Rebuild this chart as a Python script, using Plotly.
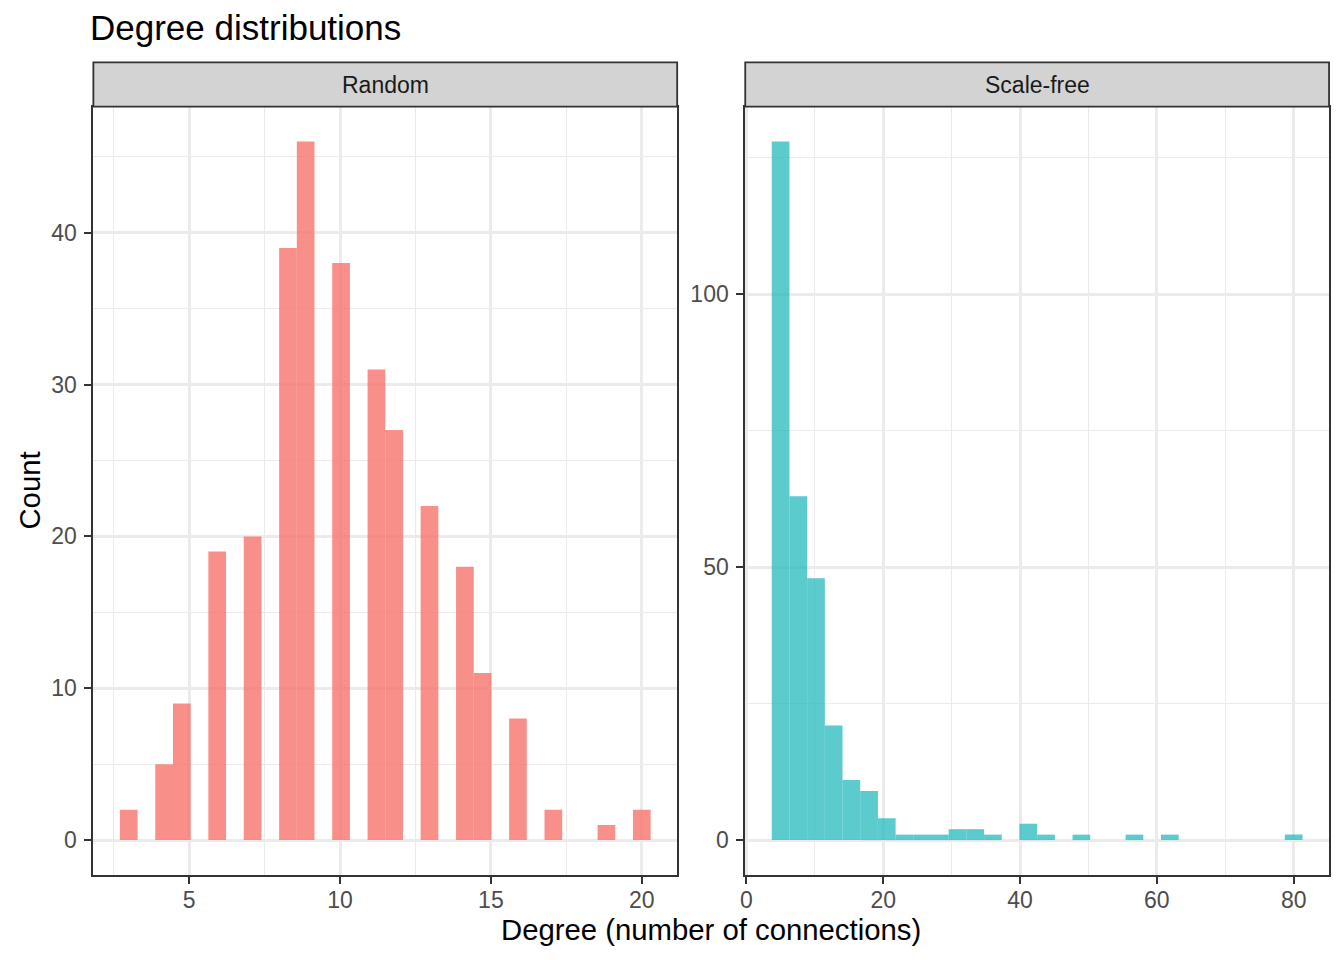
import numpy as np
import plotly.graph_objects as go

# ---------------- data ----------------
chart_title = "Degree distributions"
panel_labels = ["Random", "Scale-free"]
x_title = "Degree (number of connections)"
y_title = "Count"

# Random network: degree value -> number of nodes
random_degree = [3, 4, 5, 6, 7, 8, 9, 10, 11, 12, 13, 14, 15, 16, 17, 19, 20]
random_count = [2, 5, 9, 19, 20, 39, 46, 38, 31, 27, 22, 18, 11, 8, 2, 1, 2]

# Scale-free network: 30 histogram bins spanning degree 5..80
scalefree_min, scalefree_max = 5, 80
scalefree_bin_count = [128, 63, 48, 21, 11, 9, 4, 1, 1, 1, 2, 2, 1, 0, 3,
                       1, 0, 1, 0, 0, 1, 0, 1, 0, 0, 0, 0, 0, 0, 1]

n_bins = 30

# ---------------- binning (ggplot2 style: bins centred on range ends) ----------------
r_lo, r_hi = min(random_degree), max(random_degree)
r_w = (r_hi - r_lo) / (n_bins - 1)
r_centers = [r_lo + round((d - r_lo) / r_w) * r_w for d in random_degree]

s_w = (scalefree_max - scalefree_min) / (n_bins - 1)
s_centers = [scalefree_min + k * s_w for k in range(n_bins)]


def expand(lo, hi, mult=0.05):
    span = hi - lo
    return [lo - span * mult, hi + span * mult]


r_xrange = expand(r_lo - r_w / 2, r_hi + r_w / 2)
r_yrange = expand(0, max(random_count))
s_xrange = expand(scalefree_min - s_w / 2, scalefree_max + s_w / 2)
s_yrange = expand(0, max(scalefree_bin_count))

# ---------------- layout geometry (pixels) ----------------
W, H = 1344, 960
px = lambda v: v / W
py = lambda v: 1 - v / H

p1 = (88.7, 674.7)
p2 = (743.0, 1329.0)
p_top, p_bot = 106.7, 875.0
strip_top = 62.3

FONT = "Liberation Sans, Arial, Helvetica, sans-serif"
BORDER = "#333333"
GRID = "#EBEBEB"

fig = go.Figure()
fig.add_trace(go.Bar(
    x=r_centers, y=random_count, width=r_w,
    marker=dict(color="rgba(246,115,108,0.8)", line=dict(width=0)),
    xaxis="x", yaxis="y", showlegend=False, hoverinfo="x+y"))
fig.add_trace(go.Bar(
    x=s_centers, y=scalefree_bin_count, width=s_w,
    marker=dict(color="rgba(40,186,190,0.76)", line=dict(width=0)),
    xaxis="x2", yaxis="y2", showlegend=False, hoverinfo="x+y"))


def axis(domain, rng, dtick, anchor, minor_dtick, standoff):
    return dict(
        domain=domain, range=rng, anchor=anchor,
        tickmode="linear", tick0=0, dtick=dtick,
        showgrid=True, gridcolor=GRID, gridwidth=2.6,
        minor=dict(dtick=minor_dtick, tick0=0, showgrid=True,
                   gridcolor=GRID, gridwidth=1.3, ticks=""),
        zeroline=False,
        showline=True, mirror=True, linecolor=BORDER, linewidth=1.8,
        ticks="outside", ticklen=7, tickwidth=2, tickcolor=BORDER,
        ticklabelstandoff=standoff,
        tickfont=dict(family=FONT, size=23, color="#4D4D4D"),
        fixedrange=True,
    )


ydom = [py(p_bot), py(p_top)]
fig.update_layout(
    width=W, height=H,
    margin=dict(l=0, r=0, t=0, b=0),
    paper_bgcolor="white", plot_bgcolor="white",
    barmode="overlay",
    xaxis=axis([px(p1[0]), px(p1[1])], r_xrange, 5, "y", 2.5, -4),
    yaxis=axis(ydom, r_yrange, 10, "x", 5, 3),
    xaxis2=axis([px(p2[0]), px(p2[1])], s_xrange, 20, "y2", 10, -4),
    yaxis2=axis(ydom, s_yrange, 50, "x2", 25, 3),
)

shapes = []
annotations = []
for (x0, x1), label in zip([p1, p2], panel_labels):
    shapes.append(dict(type="rect", xref="paper", yref="paper",
                       x0=px(x0), x1=px(x1), y0=py(p_top), y1=py(strip_top),
                       fillcolor="#D3D3D3", line=dict(color=BORDER, width=1.8),
                       layer="above"))
    annotations.append(dict(text=label, xref="paper", yref="paper",
                            x=px((x0 + x1) / 2), y=py((strip_top + p_top) / 2),
                            xanchor="center", yanchor="middle", showarrow=False,
                            font=dict(family=FONT, size=23, color="#1A1A1A")))

annotations.append(dict(text=chart_title, xref="paper", yref="paper",
                        x=px(83), y=py(27.5), xanchor="left", yanchor="middle",
                        showarrow=False,
                        font=dict(family=FONT, size=35, color="black")))
annotations.append(dict(text=x_title, xref="paper", yref="paper",
                        x=px((p1[0] + p2[1]) / 2), y=py(929.5),
                        xanchor="center", yanchor="middle", showarrow=False,
                        font=dict(family=FONT, size=29.3, color="black")))
annotations.append(dict(text=y_title, xref="paper", yref="paper",
                        x=px(24.8), y=py((p_top + p_bot) / 2),
                        xanchor="center", yanchor="middle", showarrow=False,
                        textangle=-90,
                        font=dict(family=FONT, size=29.3, color="black")))

fig.update_layout(shapes=shapes, annotations=annotations)

fig.write_html("out.html",
               config={"displayModeBar": False},
               post_script="document.body.style.margin='0px';"
                           "document.body.style.overflow='hidden';")
